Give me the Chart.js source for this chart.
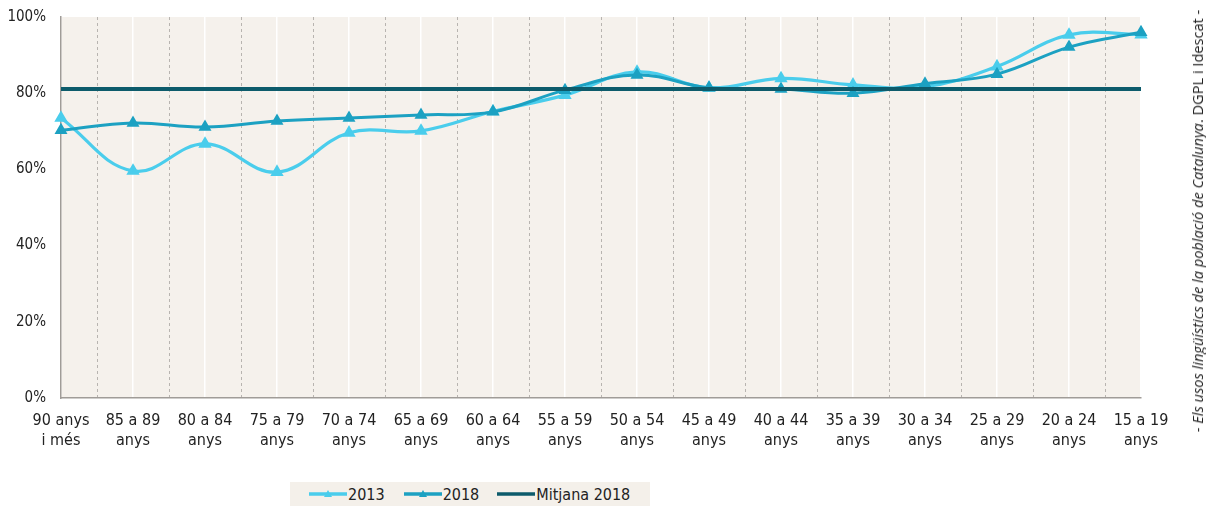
<!DOCTYPE html>
<html>
<head>
<meta charset="utf-8">
<title>Usos lingüístics per edat</title>
<script src="https://cdn.jsdelivr.net/npm/chart.js"></script>
<style>
body { margin:0; background:#fff; font-family:"DejaVu Sans Condensed", sans-serif; }
#wrap { position:relative; width:1206px; height:506px; }
#legend { position:absolute; left:290px; top:482px; width:360px; height:24px; background:#f4f0ea;
  display:flex; align-items:center; font-size:16px; color:#222; }
#legend span { display:inline-flex; align-items:center; }
#legend canvas { margin-right:1px; }
#source { position:absolute; left:1197px; top:221px; transform:translate(-50%,-50%) rotate(-90deg);
  white-space:nowrap; font-size:14.6px; color:#222; font-family:"Open Sans", sans-serif; }
</style>
</head>
<body>
<div id="wrap">
    <canvas id="chart" width="1206" height="506"></canvas>
    <div id="legend"></div>
    <div id="source">- <i>Els usos lingüístics de la població de Catalunya</i>. DGPL i Idescat -</div>
</div>
<script>
const ageLabels = [['90 anys','i més'],['85 a 89','anys'],['80 a 84','anys'],['75 a 79','anys'],['70 a 74','anys'],
    ['65 a 69','anys'],['60 a 64','anys'],['55 a 59','anys'],['50 a 54','anys'],['45 a 49','anys'],['40 a 44','anys'],
    ['35 a 39','anys'],['30 a 34','anys'],['25 a 29','anys'],['20 a 24','anys'],['15 a 19','anys']];
const values2013 = [73.5, 59.6, 66.7, 59.3, 69.6, 70.1, 75.2, 79.5, 85.6, 81.4, 83.9, 82.2, 81.7, 87.0, 95.3, 95.4];
const values2018 = [70.3, 72.2, 71.1, 72.7, 73.5, 74.3, 75.1, 80.8, 84.8, 81.4, 81.1, 80.0, 82.5, 85.0, 92.1, 96.0];
const mitjana2018 = 81.1;
const yTicks = [0, 20, 40, 60, 80, 100];

const c2013 = '#4acdec', c2018 = '#1ca1c2', cMit = '#0d5b6b';

const bgPlugin = {
    id:'bg',
    beforeDraw(chart) {
        const {ctx, chartArea:a, scales:{x}} = chart;
        ctx.save();
        ctx.fillStyle = '#f5f1ec';
        ctx.fillRect(a.left, a.top, a.right - a.left, a.bottom - a.top);
        // dashed lines between age groups
        ctx.strokeStyle = '#b8b4b0';
        ctx.lineWidth = 1;
        ctx.setLineDash([3,3]);
        for (let i = 0; i < ageLabels.length - 1; i++) {
            const px = Math.round((x.getPixelForValue(i) + x.getPixelForValue(i+1)) / 2) + 0.5;
            ctx.beginPath(); ctx.moveTo(px, a.top); ctx.lineTo(px, a.bottom); ctx.stroke();
        }
        ctx.restore();
    }
};

new Chart(document.getElementById('chart'), {
    type:'line',
    data:{
        labels: ageLabels,
        datasets:[
            {label:'Mitjana 2018', data: ageLabels.map(() => mitjana2018), borderColor:cMit, borderWidth:4,
             pointRadius:0, tension:0, order:0},
            {label:'2018', data: values2018, borderColor:c2018, backgroundColor:c2018, borderWidth:3,
             pointStyle:'triangle', pointRadius:4.5, tension:0.4, order:1},
            {label:'2013', data: values2013, borderColor:c2013, backgroundColor:c2013, borderWidth:3.2,
             pointStyle:'triangle', pointRadius:4.5, tension:0.4, order:2}
        ]
    },
    options:{
        responsive:false, animation:false, devicePixelRatio:1,
        layout:{padding:{left:0, top:17, right:65, bottom:58}},
        plugins:{legend:{display:false}, tooltip:{enabled:false}},
        scales:{
            x:{
                offset:false,
                grid:{color:'#ffffff', lineWidth:1.5, drawTicks:false},
                border:{color:'#a09c98', width:1.5},
                ticks:{color:'#222', font:{family:'"DejaVu Sans Condensed"', size:16, lineHeight:1.3}, padding:12, maxRotation:0, autoSkip:false},
                afterFit: s => { s.height = 50; s.paddingLeft = 0; s.paddingRight = 0; }
            },
            y:{
                min:0, max:100,
                afterBuildTicks: s => { s.ticks = yTicks.map(v => ({value:v})); },
                grid:{display:false, drawTicks:false},
                border:{color:'#a09c98', width:1.5},
                ticks:{color:'#222', font:{family:'"DejaVu Sans Condensed"', size:15}, padding:15, callback: v => v + '%'},
                afterFit: s => { s.width = 61; s.paddingTop = 0; s.paddingBottom = 0; }
            }
        }
    },
    plugins:[bgPlugin]
});

// legend with line + triangle swatches
function swatch(color, marker) {
    const cv = document.createElement('canvas');
    cv.width = 38; cv.height = 14;
    const g = cv.getContext('2d');
    g.strokeStyle = color; g.lineWidth = 3.5;
    g.beginPath(); g.moveTo(0, 7); g.lineTo(38, 7); g.stroke();
    if (marker) {
        g.fillStyle = color;
        g.beginPath(); g.moveTo(19, 3); g.lineTo(23, 10); g.lineTo(15, 10); g.closePath(); g.fill();
    }
    return cv;
}
const leg = document.getElementById('legend');
const legendItems = [['2013', c2013, true, 19], ['2018', c2018, true, 18], ['Mitjana 2018', cMit, false, 0]];
legendItems.forEach(([t, c, m, gap], i) => {
    const s = document.createElement('span');
    s.style.marginLeft = i === 0 ? '19px' : '0';
    s.style.marginRight = gap + 'px';
    s.appendChild(swatch(c, m));
    s.appendChild(document.createTextNode(t));
    leg.appendChild(s);
});
</script>
</body>
</html>
